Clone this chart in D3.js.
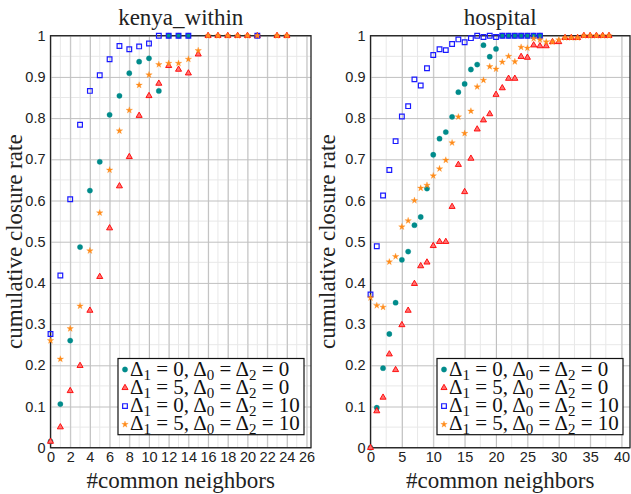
<!DOCTYPE html>
<html>
<head>
<meta charset="utf-8">
<script src="https://cdn.jsdelivr.net/npm/d3@7"></script>
<style>
  body { margin: 0; background: #fff; }
  svg { font-family: "Liberation Serif", "DejaVu Serif", serif; }
  .tick-label { font-size: 14.5px; fill: #222; }
</style>
</head>
<body>
<div id="chart"></div>
<script>
// x categories (number of common neighbors)
const kenyaNeighbors = [0, 1, 2, 3, 4, 5, 6, 7, 8, 9, 10, 11, 12, 13, 14, 15, 16, 17, 18, 19, 20, 21, 22, 23, 24];
const hospitalNeighbors = [0, 1, 2, 3, 4, 5, 6, 7, 8, 9, 10, 11, 12, 13, 14, 15, 16, 17, 18, 19,
    20, 21, 22, 23, 24, 25, 26, 27, 28, 29, 30, 31, 32, 33, 34, 35, 36, 37, 38];

// kenya_within series
const kenyaD1_0_D02_0 = [0.015, 0.106, 0.26, 0.487, 0.624, 0.694, 0.808, 0.854, 0.909, 0.937, 0.945, 0.866, 1, 1, 1,
    null, null, null, null, null, null, null, null, null, null];
const kenyaD1_5_D02_0 = [0.015, 0.05, 0.138, 0.199, 0.333, 0.415, 0.533, 0.635, 0.706, 0.806, 0.854, 0.884, 0.927, 0.918, 0.909,
    0.955, 1, 1, 1, 1, 1, 1, null, 1, 1];
const kenyaD1_0_D02_10 = [0.276, 0.418, 0.603, 0.784, 0.866, 0.904, 0.943, 0.975, 0.967, 0.974, 0.981, 1, 1, 1, 1,
    null, null, null, null, null, null, 1, null, null, null];
const kenyaD1_5_D02_10 = [0.26, 0.215, 0.289, 0.344, 0.478, 0.57, 0.674, 0.769, 0.819, 0.88, 0.905, 0.93, 0.933, 0.933, 0.943,
    0.964, 1, 1, 1, 1, 1, 1, null, 1, 1];

// hospital series
const hospD1_0_D02_0 = [0, 0.097, 0.193, 0.276, 0.352, 0.456, 0.476, 0.54, 0.56, 0.629, 0.711, 0.75, 0.766, 0.803, 0.863,
    0.883, 0.918, 0.93, 0.977, 0.949, 0.968, 1, 1, 1, 1, 1, 1, 1,
    null, null, null, null, null, null, null, null, null, null, null];
const hospD1_5_D02_0 = [0, 0.089, 0.122, 0.227, 0.189, 0.298, 0.333, 0.398, 0.441, 0.45, 0.49, 0.5, 0.5, 0.585, 0.687,
    0.621, 0.702, 0.773, 0.795, 0.81, 0.857, 0.873, 0.896, 0.896, 0.949, 0.947, 0.977, 0.975, 0.975,
    0.985, 0.985, 0.995, 0.995, 0.995, 1, 1, 1, 1, 1];
const hospD1_0_D02_10 = [0.372, 0.489, 0.612, 0.674, 0.744, 0.804, 0.829, 0.894, 0.879, 0.921, 0.953, 0.967, 0.965, 0.98, 0.991,
    0.984, 0.994, 1, 0.997, 1, 0.997, 1, 1, 1, 1, 1, 1, 1,
    null, null, null, null, null, null, null, null, null, null, null];
const hospD1_5_D02_10 = [0.364, 0.345, 0.341, 0.451, 0.464, 0.536, 0.551, 0.6, 0.63, 0.637, 0.66, 0.677, 0.698, 0.74, 0.803,
    0.763, 0.817, 0.876, 0.892, 0.925, 0.919, 0.936, 0.95, 0.937, 0.972, 0.97, 0.993, 0.99, 0.985,
    0.985, 0.99, 0.995, 0.995, 0.995, 1, 1, 1, 1, 1];

const kenyaXTicks = [0, 2, 4, 6, 8, 10, 12, 14, 16, 18, 20, 22, 24, 26];
const hospitalXTicks = [0, 5, 10, 15, 20, 25, 30, 35, 40];
const yTicks = [0, 0.1, 0.2, 0.3, 0.4, 0.5, 0.6, 0.7, 0.8, 0.9, 1];

// legend entries, subscripted Deltas
const legendLabels = [
    [["1", "0"], ["0", "2", "0"]],
    [["1", "5"], ["0", "2", "0"]],
    [["1", "0"], ["0", "2", "10"]],
    [["1", "5"], ["0", "2", "10"]]
];

const styles = [
    {color: "#008b8b", shape: d3.symbolCircle, size: 22, hollow: false},
    {color: "#ff0000", shape: d3.symbolTriangle, size: 16, hollow: false, fill: "#ff7070"},
    {color: "#1a1aff", shape: d3.symbolSquare, size: 22, hollow: true},
    {color: "#ff8c1a", shape: d3.symbolStar, size: 13, hollow: false}
];

const panels = [
    {
        title: "kenya_within", xs: kenyaNeighbors,
        series: [kenyaD1_0_D02_0, kenyaD1_5_D02_0, kenyaD1_0_D02_10, kenyaD1_5_D02_10],
        xMax: 26.45, ticks: kenyaXTicks, minorStep: 1,
        left: 50.5, right: 311, yLabelX: 14
    },
    {
        title: "hospital", xs: hospitalNeighbors,
        series: [hospD1_0_D02_0, hospD1_5_D02_0, hospD1_0_D02_10, hospD1_5_D02_10],
        xMax: 41.35, ticks: hospitalXTicks, minorStep: 2.5,
        left: 370.5, right: 630, yLabelX: 327
    }
];

const plotTop = 35.7, plotBottom = 447.7;

const svg = d3.select("#chart").append("svg")
    .attr("width", 631)
    .attr("height", 494);

const y = d3.scaleLinear().domain([0, 1]).range([plotBottom, plotTop]);

panels.forEach(p => {
    const x = d3.scaleLinear().domain([0, p.xMax]).range([p.left, p.right]);
    const g = svg.append("g");

    // minor grid
    const minorX = [];
    for (let v = p.minorStep; v < p.xMax; v += p.minorStep) minorX.push(v);
    const minorY = [];
    for (let v = 0.05; v < 1; v += 0.1) minorY.push(v);

    g.append("g").selectAll("line").data(minorX).join("line")
        .attr("x1", d => x(d)).attr("x2", d => x(d))
        .attr("y1", plotTop).attr("y2", plotBottom)
        .attr("stroke", "#e8e8e8").attr("stroke-width", 1);
    g.append("g").selectAll("line").data(minorY).join("line")
        .attr("x1", p.left).attr("x2", p.right)
        .attr("y1", d => y(d)).attr("y2", d => y(d))
        .attr("stroke", "#e8e8e8").attr("stroke-width", 1);

    // major grid via axes
    g.append("g")
        .attr("transform", `translate(0,${plotBottom})`)
        .call(d3.axisBottom(x).tickValues(p.ticks).tickSize(-(plotBottom - plotTop)).tickFormat(""))
        .call(a => a.select(".domain").remove())
        .call(a => a.selectAll("line").attr("stroke", "#c0c0c0"));
    g.append("g")
        .attr("transform", `translate(${p.left},0)`)
        .call(d3.axisLeft(y).tickValues(yTicks).tickSize(-(p.right - p.left)).tickFormat(""))
        .call(a => a.select(".domain").remove())
        .call(a => a.selectAll("line").attr("stroke", "#c0c0c0"));

    // tick labels
    g.append("g")
        .attr("transform", `translate(0,${plotBottom})`)
        .call(d3.axisBottom(x).tickValues(p.ticks).tickSize(0).tickPadding(4).tickFormat(d3.format("d")))
        .call(a => a.select(".domain").remove())
        .call(a => a.selectAll("text").attr("class", "tick-label").attr("font-family", null).attr("font-size", null));
    g.append("g")
        .attr("transform", `translate(${p.left},0)`)
        .call(d3.axisLeft(y).tickValues(yTicks).tickSize(0).tickPadding(5)
            .tickFormat(d => d === 0 ? "0" : d === 1 ? "1" : d3.format(".1f")(d)))
        .call(a => a.select(".domain").remove())
        .call(a => a.selectAll("text").attr("class", "tick-label").attr("font-family", null).attr("font-size", null));

    // frame
    g.append("rect")
        .attr("x", p.left).attr("y", plotTop)
        .attr("width", p.right - p.left).attr("height", plotBottom - plotTop)
        .attr("fill", "none").attr("stroke", "#222").attr("stroke-width", 1.3);

    // markers
    p.series.forEach((vals, si) => {
        const st = styles[si];
        const pts = p.xs.map((n, i) => ({n, v: vals[i]})).filter(d => d.v !== null);
        g.append("g").selectAll("path").data(pts).join("path")
            .attr("transform", d => `translate(${x(d.n)},${y(d.v)})`)
            .attr("d", d3.symbol().type(st.shape).size(st.size))
            .attr("fill", st.hollow ? "none" : (st.fill || st.color))
            .attr("stroke", st.color)
            .attr("stroke-width", st.hollow ? 1.2 : (si === 1 ? 0.9 : 0.3));
    });

    // titles and axis labels
    const cx = (p.left + p.right) / 2;
    svg.append("text")
        .attr("x", cx).attr("y", 25)
        .attr("text-anchor", "middle")
        .attr("font-size", 23).attr("fill", "#222")
        .text(p.title);
    svg.append("text")
        .attr("x", cx).attr("y", 488)
        .attr("text-anchor", "middle")
        .attr("font-size", 23).attr("fill", "#222")
        .text("#common neighbors");
    svg.append("text")
        .attr("transform", `translate(${p.yLabelX},${(plotTop + plotBottom) / 2}) rotate(-90)`)
        .attr("text-anchor", "middle")
        .attr("dy", "0.35em")
        .attr("font-size", 23).attr("fill", "#222")
        .text("cumulative closure rate");

    // legend
    const lg = g.append("g");
    const rowH = 18.3;
    legendLabels.forEach((lab, i) => {
        const row = lg.append("g").attr("transform", `translate(0,${i * rowH})`);
        const st = styles[i];
        row.append("path")
            .attr("transform", "translate(4,-6)")
            .attr("d", d3.symbol().type(st.shape).size(st.size))
            .attr("fill", st.hollow ? "none" : (st.fill || st.color))
            .attr("stroke", st.color)
            .attr("stroke-width", st.hollow ? 1.2 : (i === 1 ? 0.9 : 0.3));
        const t = row.append("text").attr("x", 9).attr("font-size", 21).attr("fill", "#111");
        t.append("tspan").text("Δ");
        t.append("tspan").attr("font-size", 15).attr("dy", 4).text(lab[0][0]);
        t.append("tspan").attr("dy", -4).text(" = " + lab[0][1] + ", Δ");
        t.append("tspan").attr("font-size", 15).attr("dy", 4).text(lab[1][0]);
        t.append("tspan").attr("dy", -4).text(" = Δ");
        t.append("tspan").attr("font-size", 15).attr("dy", 4).text(lab[1][1]);
        t.append("tspan").attr("dy", -4).text(" = " + lab[1][2]);
    });
    const bb = lg.node().getBBox();
    const boxW = bb.width + 8, boxH = 4 * rowH + 3;
    const bx = p.right - 7 - boxW, by = plotBottom - 13 - boxH;
    lg.insert("rect", ":first-child")
        .attr("x", -3).attr("y", -17)
        .attr("width", boxW).attr("height", boxH)
        .attr("fill", "#fff").attr("stroke", "#111").attr("stroke-width", 1.2);
    lg.attr("transform", `translate(${bx + 3},${by + 17})`);
});
</script>
</body>
</html>
